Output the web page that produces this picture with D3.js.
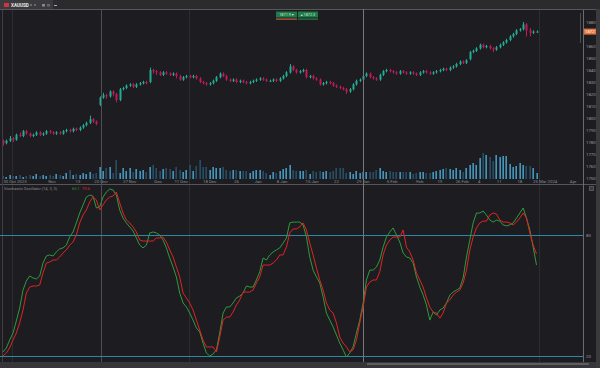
<!DOCTYPE html>
<html><head><meta charset="utf-8">
<script src="https://cdn.jsdelivr.net/npm/d3@7"></script>
<style>html,body{margin:0;padding:0;background:#1d1d21;overflow:hidden}svg{display:block}text{font-family:Roboto,"DejaVu Sans",sans-serif}</style>
</head><body><svg id="c" width="600" height="368"></svg>
<script>
const opens=[1781,1779,1781,1783,1782,1786,1785,1789,1787,1785,
1786,1788,1786,1787,1789,1788,1787,1788,1787,1789,
1790,1789,1791,1790,1792,1794,1796,1799,1797,1811,
1817,1819,1818,1822,1820,1815,1824,1825,1827,1828,
1826,1828,1829,1830,1830,1840,1839,1838,1836,1838,
1837,1836,1837,1835,1832,1834,1835,1834,1835,1833,
1830,1829,1828,1829,1831,1834,1837,1835,1832,1831,
1832,1830,1831,1830,1829,1830,1831,1832,1833,1832,
1831,1831,1832,1831,1833,1835,1838,1843,1840,1838,
1839,1840,1834,1835,1833,1832,1828,1829,1830,1829,
1827,1826,1825,1824,1822,1824,1828,1831,1832,1835,
1837,1834,1833,1832,1836,1839,1840,1839,1838,1837,
1839,1838,1837,1838,1837,1836,1838,1839,1838,1837,
1838,1839,1840,1841,1840,1842,1843,1845,1847,1846,
1849,1855,1856,1858,1861,1859,1860,1858,1857,1859,
1861,1863,1865,1868,1870,1873,1874,1878,1873,1871,
1872];
const closes=[1779,1781,1783,1782,1786,1785,1789,1787,1785,1786,
1788,1786,1787,1789,1788,1787,1788,1787,1789,1790,
1789,1791,1790,1792,1794,1796,1799,1797,1795,1817,
1819,1818,1822,1820,1815,1824,1825,1827,1828,1826,
1828,1829,1830,1829,1840,1839,1838,1836,1838,1837,
1836,1837,1835,1832,1834,1835,1834,1835,1833,1830,
1829,1828,1829,1831,1834,1837,1835,1832,1831,1832,
1830,1831,1830,1829,1830,1831,1832,1833,1832,1831,
1831,1832,1831,1833,1835,1838,1843,1840,1838,1839,
1840,1834,1835,1833,1832,1828,1829,1830,1829,1827,
1826,1825,1824,1822,1824,1828,1831,1832,1835,1837,
1834,1833,1832,1836,1839,1840,1839,1838,1837,1839,
1838,1837,1838,1837,1836,1838,1839,1838,1837,1838,
1839,1840,1841,1840,1842,1843,1845,1847,1846,1848,
1855,1856,1858,1861,1859,1860,1858,1857,1859,1861,
1863,1865,1868,1870,1873,1874,1878,1873,1871,1872,
1872];
const highs=[1782,1782,1785,1784,1787,1788,1790,1790,1788,1787,
1789,1789,1788,1790,1790,1789,1789,1789,1790,1791,
1791,1792,1792,1793,1795,1797,1802,1800,1798,1818,
1821,1820,1823,1823,1821,1825,1826,1828,1829,1829,
1829,1830,1831,1831,1842,1841,1840,1839,1839,1839,
1838,1838,1838,1836,1835,1836,1836,1836,1836,1834,
1831,1830,1830,1832,1835,1838,1838,1836,1833,1833,
1833,1832,1832,1831,1831,1832,1833,1834,1834,1833,
1832,1833,1833,1834,1836,1839,1845,1844,1841,1840,
1841,1841,1836,1836,1834,1833,1830,1831,1831,1830,
1828,1827,1826,1825,1825,1829,1832,1833,1836,1838,
1838,1835,1834,1837,1840,1841,1841,1840,1839,1840,
1840,1839,1839,1839,1838,1839,1840,1840,1839,1839,
1840,1841,1842,1842,1843,1844,1846,1848,1848,1849,
1856,1857,1859,1862,1862,1861,1861,1859,1860,1862,
1864,1866,1869,1871,1874,1875,1880,1879,1875,1873,
1873];
const lows=[1777,1778,1780,1780,1781,1784,1784,1786,1784,1784,
1785,1785,1785,1786,1787,1786,1786,1786,1786,1788,
1788,1788,1789,1789,1791,1793,1795,1796,1794,1810,
1816,1816,1817,1818,1813,1814,1823,1824,1826,1825,
1825,1827,1828,1828,1829,1837,1836,1835,1835,1836,
1835,1835,1833,1831,1831,1833,1833,1833,1832,1829,
1828,1827,1827,1828,1830,1833,1834,1831,1830,1830,
1829,1829,1829,1828,1828,1829,1830,1831,1831,1830,
1830,1830,1830,1830,1832,1834,1837,1839,1837,1837,
1838,1833,1833,1832,1831,1827,1827,1828,1828,1826,
1825,1824,1823,1820,1821,1823,1827,1830,1831,1834,
1833,1832,1831,1831,1835,1838,1838,1837,1836,1836,
1837,1836,1836,1836,1835,1835,1837,1837,1836,1836,
1837,1838,1839,1839,1839,1841,1842,1844,1845,1845,
1848,1854,1855,1857,1858,1858,1857,1855,1856,1858,
1860,1862,1864,1867,1869,1872,1873,1868,1868,1870,
1871];
const volumes=[3,2,4,3,3,4,2,3,4,3,
5,3,4,3,4,3,5,4,3,6,
9,4,5,4,6,5,7,5,6,12,
8,11,12,6,19,6,11,8,11,7,
10,8,9,7,12,14,11,8,10,11,
10,8,12,9,7,9,14,8,13,19,
12,12,9,12,11,11,12,9,8,9,
9,8,8,8,6,8,9,9,8,6,
4,7,6,8,10,11,14,9,8,8,
8,9,5,8,7,8,7,8,7,8,
11,11,11,6,7,5,8,6,7,7,
7,7,9,11,8,7,8,7,7,7,
7,7,7,5,6,7,7,6,6,7,
8,9,10,11,10,9,11,9,7,11,
14,16,14,21,26,24,22,18,24,22,
23,23,15,12,13,16,14,13,13,11,
6];
const stochK=[22.0,24.0,27.9,31.4,37.4,43.8,52.7,57.2,59.7,58.7,
58.2,59.7,66.1,69.6,70.1,69.6,71.6,73.1,73.6,75.0,
79.0,81.5,86.0,90.9,94.9,98.8,99.8,99.3,93.4,93.9,
98.8,101.3,102.8,102.3,99.8,92.4,88.4,86.0,84.0,82.0,
78.5,75.0,73.6,75.0,81.0,81.5,81.0,80.0,77.5,73.6,
68.6,64.1,59.2,51.2,46.3,44.3,41.3,37.8,33.9,31.9,
26.4,21.5,20.0,21.0,23.0,31.4,41.3,44.3,44.3,46.3,
48.8,49.7,51.2,54.7,54.2,54.2,57.7,61.8,68.6,67.6,
70.1,71.6,72.6,73.6,76.0,78.5,86.0,86.4,86.4,86.4,
85.0,79.0,69.1,62.6,59.2,56.2,49.3,41.3,37.8,34.4,
30.4,26.4,23.0,19.5,21.5,24.5,31.4,37.8,46.3,57.7,
62.6,62.6,64.1,67.6,74.0,79.0,81.5,83.5,80.0,76.5,
71.1,69.1,68.6,66.1,59.2,54.2,50.2,45.3,37.8,41.8,
40.3,42.8,43.8,46.3,50.2,51.7,52.7,53.7,58.7,69.1,
77.5,86.0,90.9,90.9,91.9,89.9,87.4,86.4,87.4,86.9,
85.0,84.5,85.0,86.0,88.4,90.9,93.4,88.4,82.5,74.0,
65.1];
const stochD=[20.0,21.5,24.0,27.9,31.4,36.4,42.8,51.2,54.2,54.7,
54.7,55.2,61.2,66.1,66.6,67.6,67.6,69.1,71.1,72.6,
75.0,76.5,80.0,86.0,89.9,92.4,96.4,98.8,97.4,92.4,
94.9,97.4,98.8,99.3,101.3,95.9,90.9,87.4,86.0,84.0,
81.5,77.5,77.0,77.0,77.0,77.0,78.5,78.5,79.0,76.5,
72.6,69.1,64.1,59.2,51.2,48.8,46.3,42.8,37.8,32.9,
27.9,24.5,24.5,24.5,22.0,29.4,37.8,39.3,39.3,41.8,
45.3,47.8,51.7,51.7,51.7,52.7,56.2,59.2,65.1,65.1,
65.1,66.1,67.6,70.1,70.1,74.0,81.0,83.0,83.0,84.0,
86.0,82.5,76.0,70.1,63.6,57.7,52.7,46.3,42.8,41.3,
36.4,29.4,26.4,24.5,22.0,23.0,27.9,36.4,44.3,54.2,
56.7,57.7,57.7,61.8,70.1,75.0,77.5,79.0,79.0,79.0,
82.5,74.0,71.6,67.6,61.2,57.7,54.2,48.8,44.3,41.8,
41.3,38.8,41.3,46.3,47.8,50.2,51.7,52.7,56.2,62.6,
72.6,79.0,83.5,86.0,86.9,86.9,89.9,90.9,90.4,87.4,
86.4,86.4,86.0,85.0,86.4,88.4,90.9,88.4,81.0,75.0,
70.6];
const priceTicks=[1880,1870,1860,1850,1840,1830,1820,1810,1800,1790,1780,1770,1760,1750];
const oscLevels=[80,20];
const dateIdx=[3.6,14.7,22.5,29.4,38,46.5,53.4,62,70,76.5,83.7,92.7,100,108,116.7,125,131,137.7,142.8,148.8,155,162.6,171];
const dateLabels=["30 Oct 2023","Nov","13","20 Nov","27 Nov","Dec","11 Dec","18 Dec","26","Jan","8 Jan","15 Jan","22","29 Jan","5 Feb","Feb","19","26 Feb","4","11","18","25 Mar 2024","Apr"];
const symbol="XAUUSD";
const legendText="Stochastic Oscillator (14, 3, 3)";

const svg=d3.select("#c");
const N=closes.length;
const x=d3.scaleLinear().domain([0,N-1]).range([3,536.5]);
const yP=d3.scaleLinear().domain([1880,1750]).range([22,178]);
const yV=d3.scaleLinear().domain([0,40]).range([179,139]);
const yO=d3.scaleLinear().domain([20,80]).range([356,235]);

svg.append("rect").attr("width",600).attr("height",368).attr("fill","#1d1d21");
// top bar
svg.append("rect").attr("width",600).attr("height",9).attr("fill","#2b2b2e");
svg.append("rect").attr("width",53).attr("height",9).attr("fill","#3a3a3e");
svg.append("line").attr("x1",0).attr("x2",600).attr("y1",9.5).attr("y2",9.5).attr("stroke","#58585c");
svg.append("rect").attr("x",4).attr("y",3).attr("width",5).attr("height",4).attr("fill","#d2343f");
svg.append("text").attr("x",11).attr("y",7).attr("font-size",4.6).attr("font-weight","bold").attr("fill","#e6e6e6").text(symbol);
[26,31,35].forEach(v=>svg.append("circle").attr("cx",v).attr("cy",5).attr("r",0.7).attr("fill","#bdbdbd"));
svg.append("rect").attr("x",42).attr("y",4).attr("width",3).attr("height",2.5).attr("fill","#888");
svg.append("rect").attr("x",47).attr("y",4).attr("width",3).attr("height",2.5).attr("fill","#666");
svg.append("line").attr("x1",54).attr("x2",57).attr("y1",5.5).attr("y2",5.5).attr("stroke","#aaa");

// faint grid lines
[12,189,539].forEach(v=>svg.append("line").attr("x1",v+.5).attr("x2",v+.5).attr("y1",10).attr("y2",362).attr("stroke","#2c2c31"));

// volume
svg.append("g").selectAll("rect").data(volumes).join("rect")
 .attr("x",(d,i)=>Math.round(x(i))-0.5).attr("width",1.3)
 .attr("y",d=>yV(d)).attr("height",d=>yV(0)-yV(d))
 .attr("fill",(d,i)=>closes[i]>=opens[i]?"#4fb4e2":"#2a5a76");

// candles
const up="#22ab94", dn="#c2185b";
const cg=svg.append("g");
cg.selectAll("line").data(closes).join("line")
 .attr("x1",(d,i)=>Math.round(x(i))+0.5).attr("x2",(d,i)=>Math.round(x(i))+0.5)
 .attr("y1",(d,i)=>yP(highs[i])).attr("y2",(d,i)=>yP(lows[i]))
 .attr("stroke",(d,i)=>d>=opens[i]?up:dn).attr("stroke-width",1);
cg.selectAll("rect").data(closes).join("rect")
 .attr("x",(d,i)=>Math.round(x(i))-0.5).attr("width",2)
 .attr("y",(d,i)=>yP(Math.max(d,opens[i])))
 .attr("height",(d,i)=>Math.max(1,Math.abs(yP(d)-yP(opens[i]))))
 .attr("fill",(d,i)=>d>=opens[i]?up:dn);

// date labels
svg.append("g").selectAll("text").data(dateLabels).join("text")
 .attr("x",(d,i)=>x(dateIdx[i])).attr("y",182.5).attr("text-anchor","middle")
 .attr("font-size",4.3).attr("fill","#8a8a8f").text(d=>d);

// separators
svg.append("line").attr("x1",0).attr("x2",596).attr("y1",184.5).attr("y2",184.5).attr("stroke","#55555a");
svg.append("line").attr("x1",101.5).attr("x2",101.5).attr("y1",10).attr("y2",362).attr("stroke","#4e4e53");
svg.append("line").attr("x1",363.5).attr("x2",363.5).attr("y1",9).attr("y2",362).attr("stroke","#77777c");
svg.append("line").attr("x1",2.5).attr("x2",2.5).attr("y1",10).attr("y2",362).attr("stroke","#3e3e43");

// top buttons
svg.append("rect").attr("x",276).attr("y",11.5).attr("width",21).attr("height",6).attr("fill","#1d7a49");
svg.append("rect").attr("x",298).attr("y",11.5).attr("width",20).attr("height",6).attr("fill","#1d7a49");
svg.append("rect").attr("x",276).attr("y",18.5).attr("width",21).attr("height",1.2).attr("fill","#c4623c");
svg.append("rect").attr("x",298).attr("y",18.5).attr("width",20).attr("height",1.2).attr("fill","#2b7f51");
svg.append("text").attr("x",286.5).attr("y",16.2).attr("text-anchor","middle").attr("font-size",3.8).attr("fill","#cfe9d9").text("1871.9 ▾");
svg.append("text").attr("x",308).attr("y",16.2).attr("text-anchor","middle").attr("font-size",3.8).attr("fill","#cfe9d9").text("▴ 1872.3");

// right axis
const last=closes[N-1];
svg.append("line").attr("x1",583.5).attr("x2",583.5).attr("y1",10).attr("y2",362).attr("stroke","#6a6a6f");
svg.append("g").selectAll("text").data(priceTicks.filter(d=>Math.abs(yP(d)-yP(last))>6)).join("text")
 .attr("x",586).attr("y",d=>yP(d)+1.5).attr("font-size",4.3).attr("fill","#9a9a9f").text(d=>d);
svg.append("line").attr("x1",580.5).attr("x2",580.5).attr("y1",13).attr("y2",43).attr("stroke","#4a4a4f");
svg.append("rect").attr("x",584).attr("y",yP(last)-3).attr("width",12).attr("height",6).attr("fill","#e2773e");
svg.append("text").attr("x",585).attr("y",yP(last)+1.6).attr("font-size",4.3).attr("fill","#fff").text(last);

// lower panel
svg.append("g").selectAll("line").data(oscLevels).join("line")
 .attr("x1",0).attr("x2",583).attr("y1",d=>Math.round(yO(d))+0.5).attr("y2",d=>Math.round(yO(d))+0.5)
 .attr("stroke","#2b88a6");
svg.append("g").selectAll("text").data(oscLevels).join("text")
 .attr("x",586).attr("y",d=>yO(d)+1.5).attr("font-size",4.3).attr("fill","#9a9a9f").text(d=>d.toFixed(0));
const line=d3.line().x((d,i)=>x(i)).y(d=>yO(d));
svg.append("path").datum(stochK).attr("d",line).attr("fill","none").attr("stroke","#2f9a3c").attr("stroke-width",1);
svg.append("path").datum(stochD).attr("d",line).attr("fill","none").attr("stroke","#e32222").attr("stroke-width",1);
svg.append("text").attr("x",4).attr("y",189.5).attr("font-size",4).attr("fill","#8a8a8f").text(legendText);
svg.append("text").attr("x",72).attr("y",189.5).attr("font-size",4).attr("fill","#2f9a3c").text(stochK[N-1].toFixed(1));
svg.append("text").attr("x",82).attr("y",189.5).attr("font-size",4).attr("fill","#e32222").text(stochD[N-1].toFixed(1));
svg.append("rect").attr("x",589.5).attr("y",186.5).attr("width",4).attr("height",4).attr("fill","#3a3a3e").attr("stroke","#555");

// bottom & right strips
svg.append("rect").attr("x",0).attr("y",362).attr("width",600).attr("height",6).attr("fill","#36363a");
svg.append("rect").attr("x",367).attr("y",363).attr("width",222).attr("height",2).attr("fill","#5e5e62");
svg.append("rect").attr("x",596).attr("y",9).attr("width",4).attr("height",359).attr("fill","#3a3a3e");
</script></body></html>
